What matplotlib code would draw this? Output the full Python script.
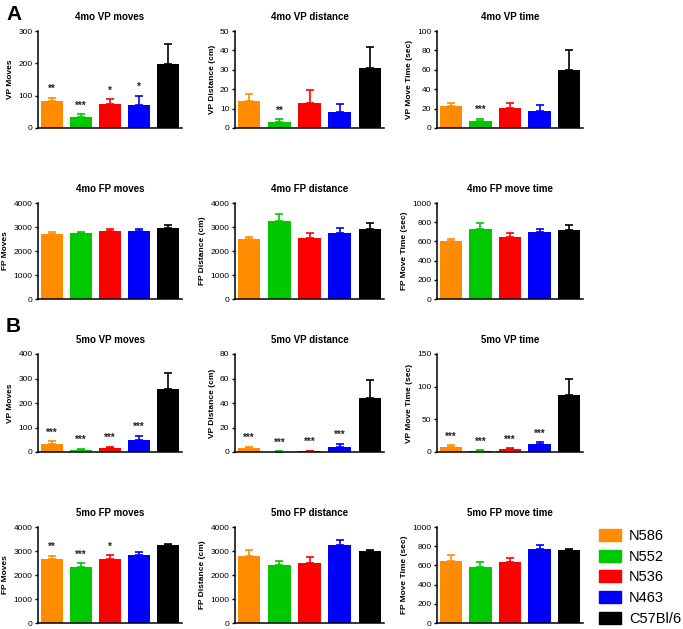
import matplotlib
matplotlib.use("Agg")
import matplotlib.pyplot as plt
from matplotlib.patches import Patch

plt.rcParams['font.family'] = ['Liberation Sans', 'DejaVu Sans']

groups = ["N586", "N552", "N536", "N463", "C57Bl/6"]
colors = ["#FF8C00", "#00C800", "#FF0000", "#0000FF", "#000000"]

titles = ["4mo VP moves", "4mo VP distance", "4mo VP time",
          "4mo FP moves", "4mo FP distance", "4mo FP move time",
          "5mo VP moves", "5mo VP distance", "5mo VP time",
          "5mo FP moves", "5mo FP distance", "5mo FP move time"]
ylabels = ["VP Moves", "VP Distance (cm)", "VP Move Time (sec)",
           "FP Moves", "FP Distance (cm)", "FP Move Time (sec)"] * 2

vp_moves_4 = [85, 34, 73, 72, 198]
vp_moves_4_err = [9, 8, 17, 28, 63]
vp_dist_4 = [14, 3, 13, 8, 31]
vp_dist_4_err = [3.3, 1.4, 6.6, 4.3, 11]
vp_time_4 = [23, 7, 21, 17.5, 60]
vp_time_4_err = [3, 2.5, 5, 6, 20]
fp_moves_4 = [2720, 2750, 2830, 2830, 2940]
fp_moves_4_err = [60, 40, 90, 80, 130]
fp_dist_4 = [2500, 3240, 2550, 2760, 2910]
fp_dist_4_err = [80, 320, 220, 200, 260]
fp_time_4 = [603, 734, 648, 693, 717]
fp_time_4_err = [18, 62, 38, 35, 52]

vp_moves_5 = [34, 10, 18, 51, 257]
vp_moves_5_err = [11, 3, 4, 16, 66]
vp_dist_5 = [3, 0.3, 0.8, 4.4, 44]
vp_dist_5_err = [1.4, 0.3, 0.3, 2.5, 15]
vp_time_5 = [8, 2, 4, 12, 87]
vp_time_5_err = [2, 1, 1.5, 3.5, 24]
fp_moves_5 = [2650, 2340, 2660, 2840, 3270]
fp_moves_5_err = [150, 140, 160, 100, 40]
fp_dist_5 = [2800, 2410, 2510, 3230, 2980]
fp_dist_5_err = [260, 180, 220, 220, 55]
fp_time_5 = [648, 586, 631, 769, 762]
fp_time_5_err = [62, 52, 48, 41, 14]

stars_vp_moves_4 = ["**", "***", "*", "*", ""]
stars_vp_dist_4 = ["", "**", "", "", ""]
stars_vp_time_4 = ["", "***", "", "", ""]
stars_none = ["", "", "", "", ""]
stars_vp_5 = ["***", "***", "***", "***", ""]
stars_fp_moves_5 = ["**", "***", "*", "", ""]

values = [vp_moves_4, vp_dist_4, vp_time_4, fp_moves_4, fp_dist_4, fp_time_4,
          vp_moves_5, vp_dist_5, vp_time_5, fp_moves_5, fp_dist_5, fp_time_5]
errors = [vp_moves_4_err, vp_dist_4_err, vp_time_4_err, fp_moves_4_err, fp_dist_4_err, fp_time_4_err,
          vp_moves_5_err, vp_dist_5_err, vp_time_5_err, fp_moves_5_err, fp_dist_5_err, fp_time_5_err]
stars = [stars_vp_moves_4, stars_vp_dist_4, stars_vp_time_4, stars_none, stars_none, stars_none,
         stars_vp_5, stars_vp_5, stars_vp_5, stars_fp_moves_5, stars_none, stars_none]
ymax = [300, 50, 100, 4000, 4000, 1000, 400, 80, 150, 4000, 4000, 1000]
ystep = [100, 10, 20, 1000, 1000, 200, 100, 20, 50, 1000, 1000, 200]

W, H = 683, 629
fig = plt.figure(figsize=(W / 100, H / 100), dpi=100)

col_x = [(38, 182), (235, 384), (437, 583)]
row_y = [(31, 128), (203, 299), (354, 452), (527, 623)]

for i in range(12):
    r, c = divmod(i, 3)
    x0, x1 = col_x[c]
    yt, yb = row_y[r]
    ax = fig.add_axes([x0 / W, 1 - yb / H, (x1 - x0) / W, (yb - yt) / H])
    xs = list(range(len(groups)))
    ax.bar(xs, values[i], width=0.75, color=colors, zorder=2)
    for x, v, e, col, s in zip(xs, values[i], errors[i], colors, stars[i]):
        ax.errorbar([x], [v], yerr=[[0], [e]], fmt='none', ecolor=col,
                    elinewidth=1.2, capsize=3.2, capthick=1.2, zorder=1)
        if s:
            ax.annotate(s, (x, v + e), xytext=(0, 2.5), textcoords='offset points',
                        ha='center', va='bottom', fontsize=7, fontweight='bold',
                        color='#222222')
    ax.set_xlim(-0.47, 4.47)
    ax.set_ylim(0, ymax[i])
    ax.set_yticks(range(0, ymax[i] + 1, ystep[i]))
    ax.set_xticks([])
    for sp in ['top', 'right']:
        ax.spines[sp].set_visible(False)
    for sp in ['left', 'bottom']:
        ax.spines[sp].set_linewidth(1.1)
    ax.tick_params(axis='y', labelsize=6, length=2.5, width=1.0, pad=1.5)
    ax.set_ylabel(ylabels[i], fontsize=6, fontweight='bold', labelpad=3)
    ax.set_title(titles[i], fontsize=7, fontweight='bold', pad=8)

fig.text(6 / W, 1 - 14 / H, "A", fontsize=15, fontweight='bold', va='center', ha='left')
fig.text(6 / W, 1 - 326 / H, "B", fontsize=15, fontweight='bold', va='center', ha='left')

handles = [Patch(facecolor=c, edgecolor=c) for c in colors]
fig.legend(handles, groups, loc='upper left', bbox_to_anchor=(599 / W, 1 - 529 / H),
           frameon=False, fontsize=10.5, handlelength=1.5, handleheight=0.9,
           handletextpad=0.55, labelspacing=0.45, borderpad=0, borderaxespad=0)

fig.savefig("out.png", dpi=100)
